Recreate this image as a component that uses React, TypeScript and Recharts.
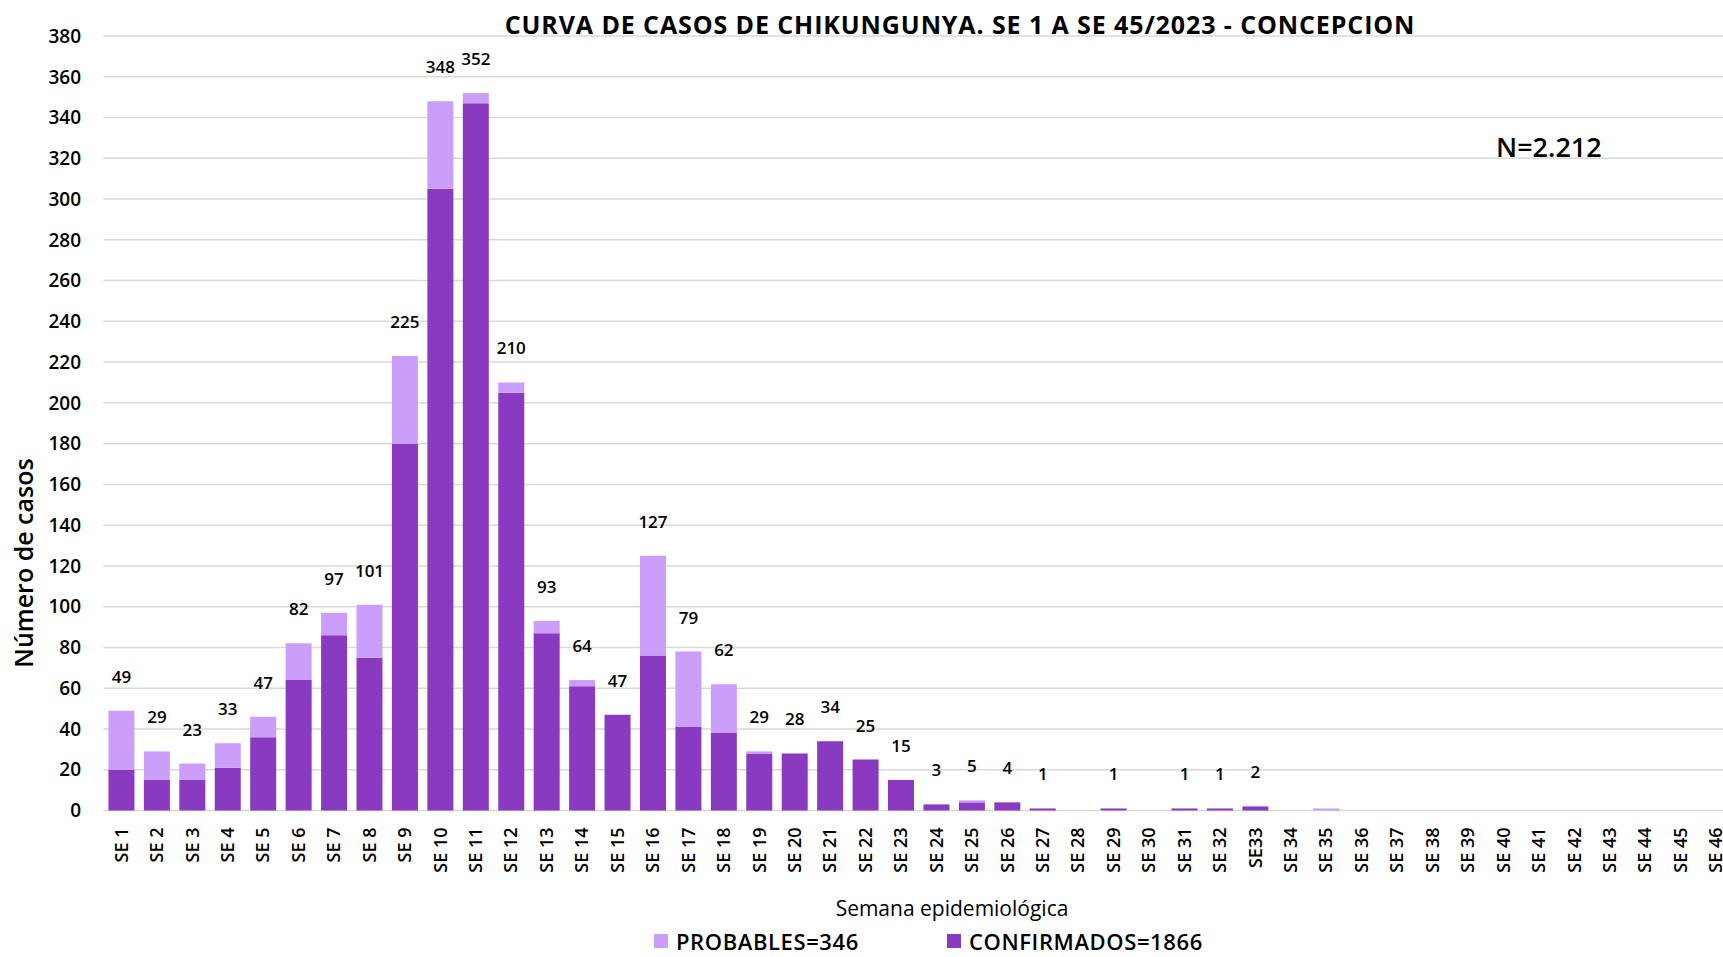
import { BarChart, Bar, XAxis, YAxis, CartesianGrid, LabelList, Legend } from 'recharts';

const weeks = [
  'SE 1', 'SE 2', 'SE 3', 'SE 4', 'SE 5', 'SE 6', 'SE 7', 'SE 8', 'SE 9', 'SE 10',
  'SE 11', 'SE 12', 'SE 13', 'SE 14', 'SE 15', 'SE 16', 'SE 17', 'SE 18', 'SE 19', 'SE 20',
  'SE 21', 'SE 22', 'SE 23', 'SE 24', 'SE 25', 'SE 26', 'SE 27', 'SE 28', 'SE 29', 'SE 30',
  'SE 31', 'SE 32', 'SE33', 'SE 34', 'SE 35', 'SE 36', 'SE 37', 'SE 38', 'SE 39', 'SE 40',
  'SE 41', 'SE 42', 'SE 43', 'SE 44', 'SE 45', 'SE 46',
];

const confirmados = [
  20, 15, 15, 21, 36, 64, 86, 75, 180, 305,
  347, 205, 87, 61, 47, 76, 41, 38, 28, 28,
  34, 25, 15, 3, 4, 4, 1, 0, 1, 0,
  1, 1, 2, 0, 0, 0, 0, 0, 0, 0,
  0, 0, 0, 0, 0, 0,
];

const probables = [
  29, 14, 8, 12, 10, 18, 11, 26, 43, 43,
  5, 5, 6, 3, 0, 49, 37, 24, 1, 0,
  0, 0, 0, 0, 1, 0, 0, 0, 0, 0,
  0, 0, 0, 0, 1, 0, 0, 0, 0, 0,
  0, 0, 0, 0, 0, 0,
];

// totals as printed above the bars (hand labels in the original)
const totalLabels = [
  49, 29, 23, 33, 47, 82, 97, 101, 225, 348,
  352, 210, 93, 64, 47, 127, 79, 62, 29, 28,
  34, 25, 15, 3, 5, 4, 1, null, 1, null,
  1, 1, 2, null, null, null, null, null, null, null,
  null, null, null, null, null, null,
];

const yTicks = [0, 20, 40, 60, 80, 100, 120, 140, 160, 180, 200, 220, 240, 260, 280, 300, 320, 340, 360, 380];

const DARK = '#893ac1';
const LIGHT = '#cc9efc';
const FONT = '"Open Sans", "Noto Sans", sans-serif';

const data = weeks.map((week, i) => ({
  week,
  confirmados: confirmados[i],
  probables: probables[i],
  total: totalLabels[i],
}));

function WeekTick({ x, y, payload }: any) {
  const ty = y + 17;
  return (
    <text
      x={x}
      y={ty}
      transform={`rotate(-90, ${x}, ${ty})`}
      textAnchor="end"
      dy="0.36em"
      fontSize={18}
      fontWeight={600}
      fill="#000"
      fontFamily={FONT}
    >
      {payload.value}
    </text>
  );
}

// sits on the confirmed bar; lifts itself above the probable part of the stack
function TotalLabel(props: any) {
  const vb = props.viewBox || {};
  const x = props.x ?? vb.x;
  const y = props.y ?? vb.y;
  const width = props.width ?? vb.width;
  const height = props.height ?? vb.height;
  const entry = props.value;
  if (!entry || entry.total == null || !entry.confirmados) return null;
  const perUnit = height / entry.confirmados;
  const top = y - entry.probables * perUnit;
  return (
    <text x={x + width / 2} y={top - 28} textAnchor="middle" fontSize={17} fontWeight={600} fill="#000" fontFamily={FONT}>
      {entry.total}
    </text>
  );
}

function LegendContent({ payload }: any) {
  const order = [
    { key: 'probables', left: 654 },
    { key: 'confirmados', left: 947 },
  ];
  return (
    <div style={{ position: 'relative', height: 18 }}>
      {order.map(({ key, left }) => {
        const item = (payload || []).find((p: any) => p.dataKey === key);
        if (!item) return null;
        return (
          <div key={key} style={{ position: 'absolute', left, top: 0, height: 18, display: 'flex', alignItems: 'center', gap: 8, whiteSpace: 'nowrap' }}>
            <span style={{ width: 14, height: 14, background: item.color, display: 'inline-block' }} />
            <span style={{ fontSize: 22, lineHeight: '18px', fontWeight: 600, letterSpacing: 0.6, color: '#000', fontFamily: FONT }}>
              {item.value}
            </span>
          </div>
        );
      })}
    </div>
  );
}

export default function App() {
  return (
    <div
      style={{
        position: 'absolute',
        left: 0,
        top: 0,
        width: 1723,
        height: 957,
        overflow: 'hidden',
        background: '#fff',
        fontFamily: FONT,
      }}
    >
      <BarChart
        width={1740}
        height={957}
        data={data}
        margin={{ top: 36, right: 6.5, bottom: 0, left: 0 }}
        barCategoryGap="14%"
      >
        <CartesianGrid vertical={false} stroke="#d9d9d9" strokeWidth={1.5} />
        <XAxis
          dataKey="week"
          interval={0}
          height={146.5}
          axisLine={false}
          tickLine={false}
          tickSize={0}
          tickMargin={0}
          tick={<WeekTick />}
          label={() => (
            <text x={952} y={916} textAnchor="middle" fontSize={21} fill="#000" fontFamily={FONT}>
              Semana epidemiológica
            </text>
          )}
        />
        <YAxis
          width={103.5}
          domain={[0, 380]}
          ticks={yTicks}
          axisLine={false}
          tickLine={false}
          tickSize={0}
          tickMargin={22.5}
          tick={{ fontSize: 19, fontWeight: 600, fill: '#000', fontFamily: FONT }}
          label={() => (
            <text
              x={33}
              y={563}
              transform="rotate(-90, 33, 563)"
              textAnchor="middle"
              fontSize={25}
              fontWeight={600}
              fill="#000"
              fontFamily={FONT}
            >
              Número de casos
            </text>
          )}
        />
        <Legend
          layout="horizontal"
          verticalAlign="middle"
          align="center"
          wrapperStyle={{ top: 932, left: 0, width: 1723, height: 18 }}
          content={<LegendContent />}
        />
        <Bar dataKey="confirmados" name="CONFIRMADOS=1866" stackId="a" fill={DARK} isAnimationActive={false}>
          <LabelList dataKey={(entry: any) => entry} content={<TotalLabel />} />
        </Bar>
        <Bar dataKey="probables" name="PROBABLES=346" stackId="a" fill={LIGHT} isAnimationActive={false} />
      </BarChart>
      <div
        style={{
          position: 'absolute',
          left: 960,
          top: 12,
          transform: 'translateX(-50%)',
          whiteSpace: 'nowrap',
          fontSize: 25,
          lineHeight: '25px',
          fontWeight: 700,
          letterSpacing: 0.9,
          color: '#000',
        }}
      >
        CURVA DE CASOS DE CHIKUNGUNYA. SE 1 A SE 45/2023 - CONCEPCION
      </div>
      <div
        style={{
          position: 'absolute',
          left: 1496,
          top: 133,
          whiteSpace: 'nowrap',
          fontSize: 27,
          lineHeight: '27px',
          fontWeight: 600,
          color: '#000',
        }}
      >
        N=2.212
      </div>
    </div>
  );
}
